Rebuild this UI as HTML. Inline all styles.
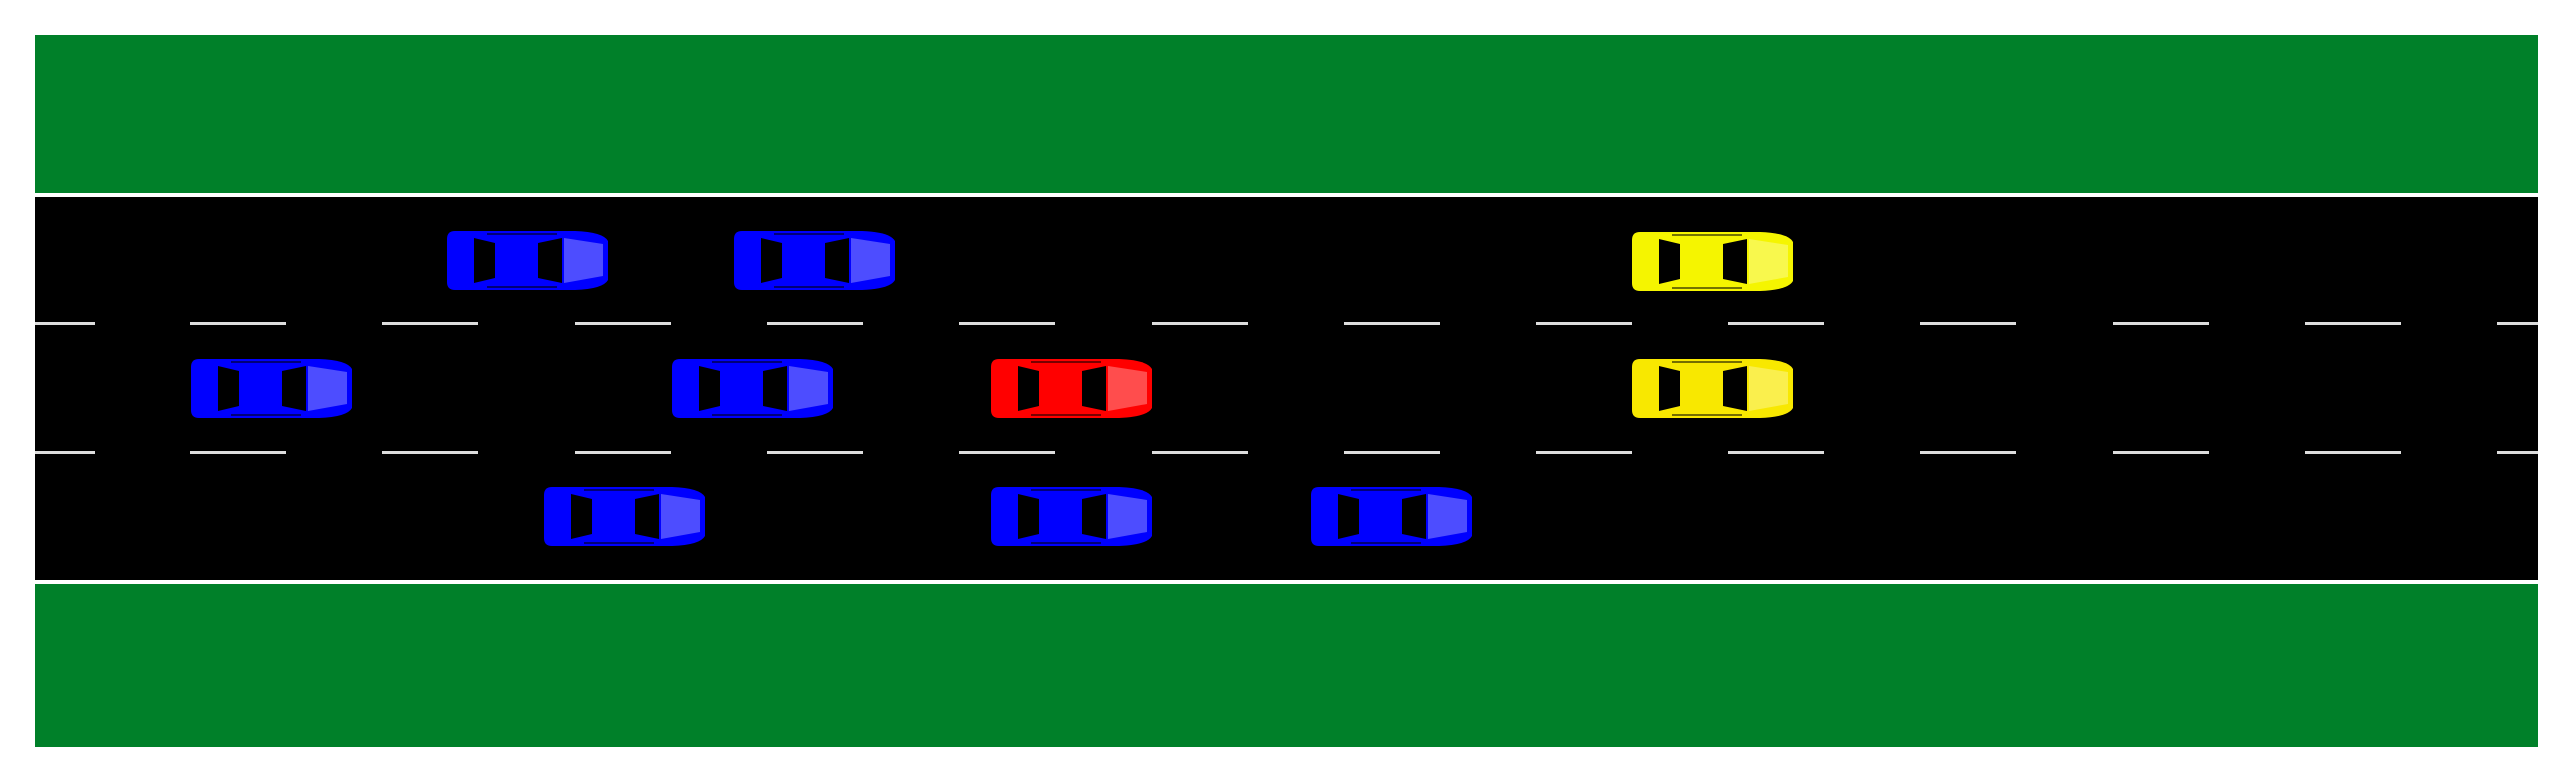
<!DOCTYPE html>
<html><head><meta charset="utf-8"><style>html,body{margin:0;padding:0;background:#fff}svg{display:block}</style></head>
<body>
<svg width="2576" height="780" viewBox="0 0 2576 780" xmlns="http://www.w3.org/2000/svg">
<defs>
<g id="car">
<path d="M8,0 H128 Q156,1 161,10 V49 Q156,58 128,59 H8 Q0,59 0,51 V8 Q0,0 8,0 Z" fill="currentColor"/>
<path d="M40,3 H110 M40,56 H110" stroke="#000" stroke-width="1.5" opacity="0.7"/>
<polygon points="27,7 48,12 48,47 27,52" fill="#000"/>
<polygon points="91,12 115,7 115,52 91,47" fill="#000"/>
<polygon points="117,7 156,13 156,45 117,52" fill="#fff" opacity="0.3"/>
</g>
</defs>
<rect x="35" y="35" width="2503" height="158" fill="#008029"/>
<rect x="35" y="193" width="2503" height="5" fill="#fff"/>
<rect x="35" y="197" width="2503" height="383" fill="#000"/>
<rect x="35" y="580" width="2503" height="4" fill="#fff"/>
<rect x="35" y="584" width="2503" height="163" fill="#008029"/>
<g fill="#ddd">
<rect x="35" y="322" width="60" height="3"/><rect x="35" y="451" width="60" height="3"/>
<rect x="190" y="322" width="96" height="3"/><rect x="190" y="451" width="96" height="3"/>
<rect x="382" y="322" width="96" height="3"/><rect x="382" y="451" width="96" height="3"/>
<rect x="575" y="322" width="96" height="3"/><rect x="575" y="451" width="96" height="3"/>
<rect x="767" y="322" width="96" height="3"/><rect x="767" y="451" width="96" height="3"/>
<rect x="959" y="322" width="96" height="3"/><rect x="959" y="451" width="96" height="3"/>
<rect x="1152" y="322" width="96" height="3"/><rect x="1152" y="451" width="96" height="3"/>
<rect x="1344" y="322" width="96" height="3"/><rect x="1344" y="451" width="96" height="3"/>
<rect x="1536" y="322" width="96" height="3"/><rect x="1536" y="451" width="96" height="3"/>
<rect x="1728" y="322" width="96" height="3"/><rect x="1728" y="451" width="96" height="3"/>
<rect x="1920" y="322" width="96" height="3"/><rect x="1920" y="451" width="96" height="3"/>
<rect x="2113" y="322" width="96" height="3"/><rect x="2113" y="451" width="96" height="3"/>
<rect x="2305" y="322" width="96" height="3"/><rect x="2305" y="451" width="96" height="3"/>
<rect x="2497" y="322" width="41" height="3"/><rect x="2497" y="451" width="41" height="3"/>
</g>
<use href="#car" x="447" y="231" color="#0000ff"/>
<use href="#car" x="734" y="231" color="#0000ff"/>
<use href="#car" x="1632" y="232" color="#f5f500"/>
<use href="#car" x="191" y="359" color="#0000ff"/>
<use href="#car" x="672" y="359" color="#0000ff"/>
<use href="#car" x="991" y="359" color="#ff0000"/>
<use href="#car" x="1632" y="359" color="#f8e800"/>
<use href="#car" x="544" y="487" color="#0000ff"/>
<use href="#car" x="991" y="487" color="#0000ff"/>
<use href="#car" x="1311" y="487" color="#0000ff"/>
</svg>
</body></html>
